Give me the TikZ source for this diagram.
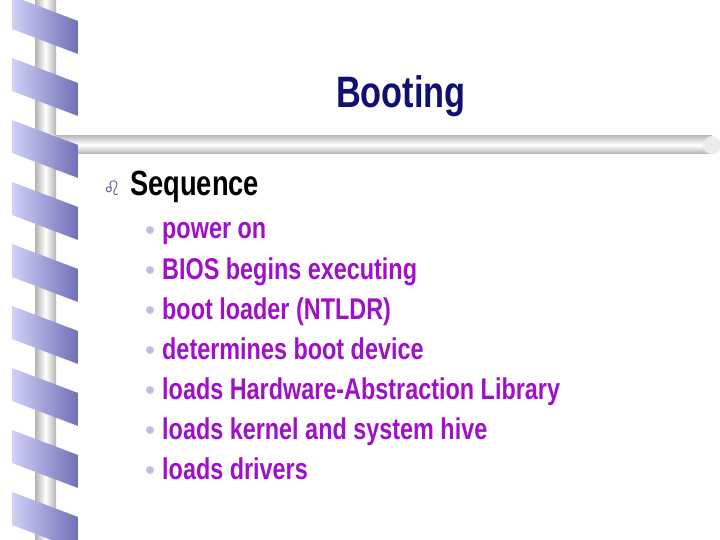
\documentclass[tikz,border=0pt]{standalone}
\usepackage{fontspec}
\setmainfont{Liberation Sans}[FakeStretch=0.78]
\newfontfamily\symfont{DejaVu Sans}
\definecolor{navy}{HTML}{101070}
\definecolor{itempurple}{HTML}{A010C8}
\definecolor{ribbonlight}{HTML}{D0D0F8}
\definecolor{ribbondark}{HTML}{7070B8}
\begin{document}
\begin{tikzpicture}[x=1pt,y=-1pt]
		\tikzstyle{item}=[anchor=base west,inner sep=0pt,font=\fontsize{30}{34}\selectfont\bfseries,text=itempurple]
		\tikzstyle{dot}=[circle,fill=ribbondark!45,inner sep=0pt,minimum size=8pt]
		\useasboundingbox[fill=white] (0,0) rectangle (720,540);
		% pole and bar
		\shade[left color=gray!60,right color=gray!60,middle color=white] (35,0) rectangle (56,540);
		\shade[top color=gray!50,bottom color=gray!60,middle color=white] (48,136) rectangle (712,154);
		\fill[gray!15] (712,145) circle (9);
		\fill[gray!15] (48,145) circle (12);
		% ribbon
		\foreach \y in {-4,58,...,540}
			\shade[left color=ribbonlight,right color=ribbondark] (12,\y) -- (78,\y+25) -- (78,\y+58) -- (12,\y+33) -- cycle;
		% text
		\node[anchor=base,inner sep=0pt,font=\fontsize{44}{48}\selectfont\bfseries,text=navy] (title) at (401,108) {Booting};
		\node[anchor=base west,inner sep=0pt,font=\fontsize{20}{22}\selectfont\symfont,text=navy!70] (mark) at (103,196) {♌};
		\node[anchor=base west,inner sep=0pt,font=\fontsize{35}{38}\selectfont\bfseries] (seq) at (130,196) {Sequence};
		\foreach \t [count=\i from 0] in {power on,BIOS begins executing,boot loader (NTLDR),determines boot device,loads Hardware-Abstraction Library,loads kernel and system hive,loads drivers} {
			\node[dot] (b\i) at (150,230+40*\i) {};
			\node[item] (t\i) at (162,239+40*\i) {\t};
		}
\end{tikzpicture}
\end{document}
